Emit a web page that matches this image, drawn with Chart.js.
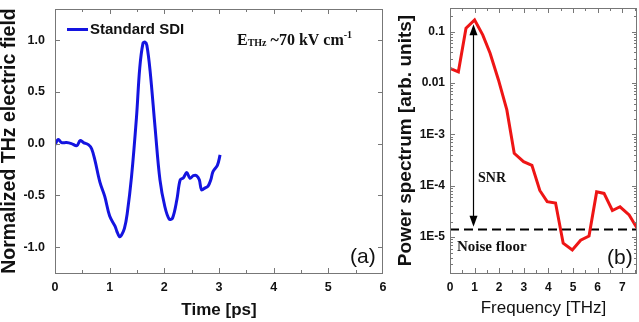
<!DOCTYPE html>
<html>
<head>
<meta charset="utf-8">
<script src="https://cdn.jsdelivr.net/npm/chart.js@4/dist/chart.umd.min.js"></script>
<style>
html,body{margin:0;padding:0;background:#fff;}
#wrap{position:relative;width:639px;height:322px;overflow:hidden;}
#c1{position:absolute;left:0;top:0;}
#c2{position:absolute;left:390px;top:0;}
</style>
</head>
<body>
<div id="wrap">
  <canvas id="c1" width="390" height="322"></canvas>
  <canvas id="c2" width="249" height="322"></canvas>
</div>
<script>
// ---- panel (a): time-domain THz field ----
const timePs = [0,0.06,0.12,0.21,0.30,0.40,0.46,0.52,0.61,0.67,0.73,0.82,0.91,1.00,1.10,1.13,1.18,1.22,1.27,1.32,1.40,1.49,1.55,1.61,1.645,1.68,1.74,1.83,1.92,2.01,2.09,2.15,2.23,2.29,2.35,2.41,2.47,2.53,2.59,2.64,2.68,2.74,2.80,2.85,2.89,2.97,3.02];
const fieldNorm = [-0.01,0.04,0.01,0.01,0.0,-0.02,0.03,0.01,-0.01,-0.05,-0.16,-0.37,-0.51,-0.70,-0.80,-0.845,-0.90,-0.88,-0.82,-0.68,-0.32,0.25,0.73,0.97,0.98,0.95,0.70,0.16,-0.35,-0.61,-0.73,-0.72,-0.54,-0.35,-0.33,-0.28,-0.335,-0.31,-0.31,-0.35,-0.445,-0.43,-0.41,-0.35,-0.27,-0.21,-0.11];
const timeTicks = [0,1,2,3,4,5,6];
const timeMinor = [0.5,1.5,2.5,3.5,4.5,5.5];
const fieldTicks = [-1,-0.5,0,0.5,1];

// ---- panel (b): power spectrum ----
const freqTHz = [0,0.34,0.65,1.0,1.33,1.63,1.97,2.31,2.61,2.99,3.33,3.65,3.95,4.29,4.6,4.97,5.31,5.65,5.96,6.26,6.6,6.91,7.28,7.6];
const power = [0.0194,0.0166,0.117,0.17,0.087,0.038,0.0115,0.0030,4.3e-4,2.95e-4,2.5e-4,8.1e-5,4.9e-5,4.6e-5,7.6e-6,5.6e-6,8.7e-6,1.05e-5,7.6e-5,7.1e-5,3.3e-5,3.9e-5,2.7e-5,1.5e-5];
const freqTicks = [0,1,2,3,4,5,6,7];
const freqMinor = [0.5,1.5,2.5,3.5,4.5,5.5,6.5,7.5];
const powerTicks = [1e-5,1e-4,1e-3,0.01,0.1];
const powerLabels = ['1E-5','1E-4','1E-3','0.01','0.1'];
const noiseFloor = 1.4e-5;
const snrFreq = 0.93, snrTop = 0.14, snrBottom = 1.6e-5;

const SANS = '"Liberation Sans", Arial, sans-serif';
const SERIF = '"Liberation Serif", "Times New Roman", serif';
const INK = '#111';

function logMinors(lo, hi) {
  const out = [];
  for (let e = Math.floor(Math.log10(lo)); e <= Math.ceil(Math.log10(hi)); e++)
    for (let m = 2; m <= 9; m++) { const v = m * Math.pow(10, e); if (v > lo && v < hi) out.push(v); }
  return out;
}

// box round the plot + inward tick marks on all four sides
const framePlugin = {
  id: 'frame',
  afterDatasetsDraw(chart, args, o) {
    const {ctx, chartArea: a, scales: {x, y}} = chart;
    ctx.save();
    ctx.strokeStyle = '#777'; ctx.lineWidth = 1;
    ctx.strokeRect(a.left + 0.5, a.top + 0.5, a.right - a.left - 1, a.bottom - a.top);
    const tx = (vals, len) => vals.forEach(v => {
      const px = Math.round(x.getPixelForValue(v)) + 0.5;
      if (px < a.left || px > a.right) return;
      ctx.beginPath(); ctx.moveTo(px, a.bottom); ctx.lineTo(px, a.bottom - len);
      ctx.moveTo(px, a.top); ctx.lineTo(px, a.top + len); ctx.stroke();
    });
    const ty = (vals, len) => vals.forEach(v => {
      const py = Math.round(y.getPixelForValue(v)) + 0.5;
      if (py < a.top || py > a.bottom) return;
      ctx.beginPath(); ctx.moveTo(a.left, py); ctx.lineTo(a.left + len, py);
      ctx.moveTo(a.right, py); ctx.lineTo(a.right - len, py); ctx.stroke();
    });
    tx(o.xMajor || [], 5); tx(o.xMinor || [], 3);
    ty(o.yMajor || [], 5); ty(o.yMinor || [], 3);
    ctx.restore();
  }
};

// free text and the in-plot legend
const notesPlugin = {
  id: 'notes',
  afterDatasetsDraw(chart, args, o) {
    const ctx = chart.ctx, a = chart.chartArea;
    ctx.save();
    ctx.fillStyle = INK; ctx.textBaseline = 'alphabetic';
    if (o.legend) {
      const ds = chart.data.datasets[0];
      ctx.strokeStyle = ds.borderColor; ctx.lineWidth = 3;
      ctx.beginPath(); ctx.moveTo(a.left + 12, 29.5); ctx.lineTo(a.left + 33, 29.5); ctx.stroke();
      ctx.font = 'bold 15px ' + SANS; ctx.textAlign = 'left';
      ctx.fillText(ds.label, a.left + 35, 34);
    }
    (o.runs || []).forEach(r => {
      let cx = r.x;
      r.parts.forEach(p => {
        ctx.font = (p.bold ? 'bold ' : '') + p.size + 'px ' + (p.family || SERIF);
        ctx.textAlign = 'left';
        ctx.fillText(p.t, cx, r.y + (p.dy || 0));
        cx += ctx.measureText(p.t).width;
      });
    });
    if (o.arrow) {
      const {x, y} = chart.scales;
      const px = Math.round(x.getPixelForValue(o.arrow.x)) + 0.5;
      const y1 = y.getPixelForValue(o.arrow.top), y2 = y.getPixelForValue(o.arrow.bottom);
      ctx.strokeStyle = '#000'; ctx.fillStyle = '#000'; ctx.lineWidth = 1.2;
      ctx.beginPath(); ctx.moveTo(px, y1 + 10); ctx.lineTo(px, y2 - 10); ctx.stroke();
      ctx.beginPath(); ctx.moveTo(px, y1); ctx.lineTo(px - 4, y1 + 11); ctx.lineTo(px + 4, y1 + 11); ctx.closePath(); ctx.fill();
      ctx.beginPath(); ctx.moveTo(px, y2); ctx.lineTo(px - 4, y2 - 11); ctx.lineTo(px + 4, y2 - 11); ctx.closePath(); ctx.fill();
    }
    ctx.restore();
  }
};

Chart.defaults.font.family = SANS;
Chart.defaults.color = INK;

const noGrid = {display: false, drawTicks: false, tickLength: 0};
// fixed axis boxes, no extra room for the end labels
const fitX = s => { s.height = 49; s.paddingLeft = 0; s.paddingRight = 0; };
const fitY = w => s => { s.width = w; s.paddingTop = 0; s.paddingBottom = 0; };

// (a)
new Chart(document.getElementById('c1'), {
  type: 'line',
  data: {
    datasets: [{
      label: 'Standard SDI',
      data: timePs.map((t, i) => ({x: t, y: fieldNorm[i]})),
      borderColor: '#1414e0', borderWidth: 3, pointRadius: 0,
      tension: 0.35, fill: false
    }]
  },
  options: {
    responsive: false, devicePixelRatio: 1, animation: false,
    layout: {padding: {top: 9, right: 7, left: 0, bottom: 0}},
    plugins: {
      legend: {display: false}, tooltip: {enabled: false},
      frame: {xMajor: timeTicks, xMinor: timeMinor, yMajor: fieldTicks, yMinor: []},
      notes: {
        legend: true,
        runs: [
          {x: 237, y: 45, parts: [
            {t: 'E', size: 16, bold: true},
            {t: 'THz', size: 10, bold: true, dy: 1},
            {t: ' ~70 kV cm', size: 16, bold: true},
            {t: '-1', size: 10, bold: true, dy: -7}
          ]},
          {x: 350, y: 263, parts: [{t: '(a)', size: 21, family: SANS}]}
        ]
      }
    },
    scales: {
      x: {
        type: 'linear', min: 0, max: 6,
        afterBuildTicks: s => { s.ticks = timeTicks.map(v => ({value: v})); },
        afterFit: fitX,
        grid: noGrid, border: {display: false},
        ticks: {font: {size: 12.5, weight: 'bold'}, padding: 7, maxRotation: 0},
        title: {display: true, text: 'Time [ps]', font: {size: 17, weight: 'bold'}, padding: {top: 0, bottom: 1}}
      },
      y: {
        type: 'linear', min: -1.25, max: 1.3,
        afterBuildTicks: s => { s.ticks = fieldTicks.map(v => ({value: v})); },
        afterFit: fitY(55),
        grid: noGrid, border: {display: false},
        ticks: {font: {size: 12.5, weight: 'bold'}, padding: 10, callback: v => v.toFixed(1)},
        title: {display: true, text: 'Normalized THz electric field', font: {size: 19.5, weight: 'bold', lineHeight: 1}, padding: 0}
      }
    }
  },
  plugins: [framePlugin, notesPlugin]
});

// (b)
new Chart(document.getElementById('c2'), {
  type: 'line',
  data: {
    datasets: [{
      label: 'Power spectrum',
      data: freqTHz.map((f, i) => ({x: f, y: power[i]})),
      borderColor: '#ee1515', borderWidth: 3, pointRadius: 0, tension: 0, fill: false
    }, {
      label: 'Noise floor',
      data: [{x: 0, y: noiseFloor}, {x: 7.6, y: noiseFloor}],
      borderColor: '#000', borderWidth: 2, borderDash: [9, 5], pointRadius: 0, fill: false
    }]
  },
  options: {
    responsive: false, devicePixelRatio: 1, animation: false,
    layout: {padding: {top: 8, right: 2, left: 0, bottom: 0}},
    plugins: {
      legend: {display: false}, tooltip: {enabled: false},
      frame: {xMajor: freqTicks, xMinor: freqMinor, yMajor: powerTicks, yMinor: logMinors(2e-6, 0.29)},
      notes: {
        arrow: {x: snrFreq, top: snrTop, bottom: snrBottom},
        runs: [
          {x: 88, y: 182, parts: [{t: 'SNR', size: 14, bold: true}]},
          {x: 67, y: 251, parts: [{t: 'Noise floor', size: 15, bold: true}]},
          {x: 217, y: 264, parts: [{t: '(b)', size: 21, family: SANS}]}
        ]
      }
    },
    scales: {
      x: {
        type: 'linear', min: 0, max: 7.6,
        afterBuildTicks: s => { s.ticks = freqTicks.map(v => ({value: v})); },
        afterFit: fitX,
        grid: noGrid, border: {display: false},
        ticks: {font: {size: 12, weight: 'bold'}, padding: 7, maxRotation: 0},
        title: {display: true, text: 'Frequency [THz]', font: {size: 17}, padding: {top: 0, bottom: 3}}
      },
      y: {
        type: 'logarithmic', min: 2e-6, max: 0.29,
        afterBuildTicks: s => { s.ticks = powerTicks.map(v => ({value: v})); },
        afterFit: fitY(60),
        grid: noGrid, border: {display: false},
        ticks: {font: {size: 12, weight: 'bold'}, padding: 5, callback: (v, i) => powerLabels[i]},
        title: {display: true, text: 'Power spectrum [arb. units]', font: {size: 19, weight: 'bold', lineHeight: 1}, padding: {top: 6.5, bottom: 0}}
      }
    }
  },
  plugins: [framePlugin, notesPlugin]
});
</script>
</body>
</html>
